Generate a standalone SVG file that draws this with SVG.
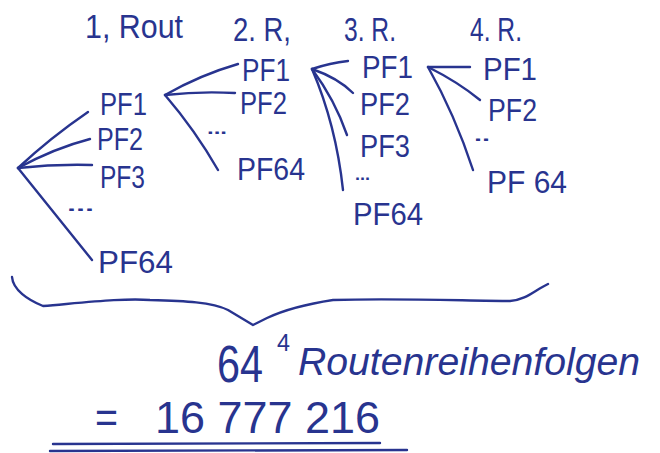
<svg xmlns="http://www.w3.org/2000/svg" width="660" height="453" viewBox="0 0 660 453">
  <style>
    .ink { fill: #28348f; font-family: "Liberation Sans", "DejaVu Sans", sans-serif; }
    .hd { font-size: 33px; }
    .pf { font-size: 31px; }
    .dots { font-size: 16px; font-weight: bold; }
    .big { font-size: 44px; }
    .word { font-size: 38px; font-style: italic; }
    .line { fill: none; stroke: #28348f; stroke-width: 2.4; stroke-linecap: round; stroke-linejoin: round; }
  </style>
  <rect width="660" height="453" fill="#ffffff"/>

  <!-- column headings -->
  <g id="headings">
    <text class="ink hd" x="85" y="38" textLength="98" lengthAdjust="spacingAndGlyphs">1, Rout</text>
    <text class="ink hd" x="233" y="41" textLength="58" lengthAdjust="spacingAndGlyphs">2. R,</text>
    <text class="ink hd" x="344" y="41" textLength="52" lengthAdjust="spacingAndGlyphs">3. R.</text>
    <text class="ink hd" x="470" y="41" textLength="52" lengthAdjust="spacingAndGlyphs">4. R.</text>
  </g>

  <!-- connectors -->
  <g id="connectors">
    <!-- start point to round 1 -->
    <path class="line" d="M18,168 Q50,138 88,112"/>
    <path class="line" d="M18,168 Q55,148 90,139"/>
    <path class="line" d="M18,168 Q55,164 92,165"/>
    <path class="line" d="M18,168 Q58,218 92,260"/>
    <!-- round 1 PF1 to round 2 -->
    <path class="line" d="M165,95 Q200,75 238,64"/>
    <path class="line" d="M165,95 Q200,91 235,93"/>
    <path class="line" d="M165,95 Q195,130 218,170"/>
    <!-- round 2 PF1 to round 3 -->
    <path class="line" d="M312,69 Q330,63 348,61"/>
    <path class="line" d="M312,69 Q338,78 353,93"/>
    <path class="line" d="M312,69 Q335,100 347,135"/>
    <path class="line" d="M312,69 Q336,125 343,190"/>
    <!-- round 3 PF1 to round 4 -->
    <path class="line" d="M428,67 L470,67"/>
    <path class="line" d="M428,67 Q458,82 480,100"/>
    <path class="line" d="M428,67 Q455,115 473,170"/>
  </g>

  <!-- round 1 -->
  <g id="r1-pf1"><text class="ink pf" x="100" y="115" textLength="47" lengthAdjust="spacingAndGlyphs">PF1</text></g>
  <g id="r1-pf2"><text class="ink pf" x="97" y="150" textLength="46" lengthAdjust="spacingAndGlyphs">PF2</text></g>
  <g id="r1-pf3"><text class="ink pf" x="100" y="188" textLength="45" lengthAdjust="spacingAndGlyphs">PF3</text></g>
  <g id="r1-dots"><text class="ink dots" x="67" y="211" textLength="27" lengthAdjust="spacingAndGlyphs">...</text></g>
  <g id="r1-pf64"><text class="ink pf" x="98" y="273" textLength="75" lengthAdjust="spacingAndGlyphs">PF64</text></g>

  <!-- round 2 -->
  <g id="r2-pf1"><text class="ink pf" x="242" y="81" textLength="48" lengthAdjust="spacingAndGlyphs">PF1</text></g>
  <g id="r2-pf2"><text class="ink pf" x="240" y="114" textLength="47" lengthAdjust="spacingAndGlyphs">PF2</text></g>
  <g id="r2-dots"><text class="ink dots" x="207" y="134" textLength="20" lengthAdjust="spacingAndGlyphs">...</text></g>
  <g id="r2-pf64"><text class="ink pf" x="237" y="180" textLength="68" lengthAdjust="spacingAndGlyphs">PF64</text></g>

  <!-- round 3 -->
  <g id="r3-pf1"><text class="ink pf" x="362" y="78" textLength="51" lengthAdjust="spacingAndGlyphs">PF1</text></g>
  <g id="r3-pf2"><text class="ink pf" x="360" y="115" textLength="50" lengthAdjust="spacingAndGlyphs">PF2</text></g>
  <g id="r3-pf3"><text class="ink pf" x="360" y="157" textLength="50" lengthAdjust="spacingAndGlyphs">PF3</text></g>
  <g id="r3-dots"><text class="ink dots" x="355" y="180" textLength="15" lengthAdjust="spacingAndGlyphs">...</text></g>
  <g id="r3-pf64"><text class="ink pf" x="353" y="225" textLength="70" lengthAdjust="spacingAndGlyphs">PF64</text></g>

  <!-- round 4 -->
  <g id="r4-pf1"><text class="ink pf" x="483" y="80" textLength="54" lengthAdjust="spacingAndGlyphs">PF1</text></g>
  <g id="r4-pf2"><text class="ink pf" x="488" y="121" textLength="49" lengthAdjust="spacingAndGlyphs">PF2</text></g>
  <g id="r4-dots"><text class="ink dots" x="474" y="141" textLength="16" lengthAdjust="spacingAndGlyphs">..</text></g>
  <g id="r4-pf64"><text class="ink pf" x="487" y="193" textLength="80" lengthAdjust="spacingAndGlyphs">PF 64</text></g>

  <!-- curly brace under all rounds -->
  <g id="brace">
    <path class="line" d="M12,277 C13,290 28,300 43,306 C90,302 125,298 150,300 C185,301 212,302 228,310 L253,325 L267,318 C282,311 300,305 333,300 C400,298 470,301 510,301 C526,300 535,290 548,284"/>
  </g>

  <!-- result -->
  <g id="result">
    <text class="ink" x="217" y="382" font-size="52" textLength="46" lengthAdjust="spacingAndGlyphs">64</text>
    <text class="ink" x="277" y="351" font-size="24" textLength="13" lengthAdjust="spacingAndGlyphs">4</text>
    <text class="ink word" x="298" y="375" textLength="342" lengthAdjust="spacingAndGlyphs">Routenreihenfolgen</text>
    <text class="ink big" x="95" y="433" textLength="23" lengthAdjust="spacingAndGlyphs">=</text>
    <text class="ink big" x="155" y="433" textLength="225" lengthAdjust="spacingAndGlyphs">16 777 216</text>
    <path class="line" d="M53,444 L380,443"/>
    <path class="line" d="M50,451 L407,450"/>
  </g>
</svg>
